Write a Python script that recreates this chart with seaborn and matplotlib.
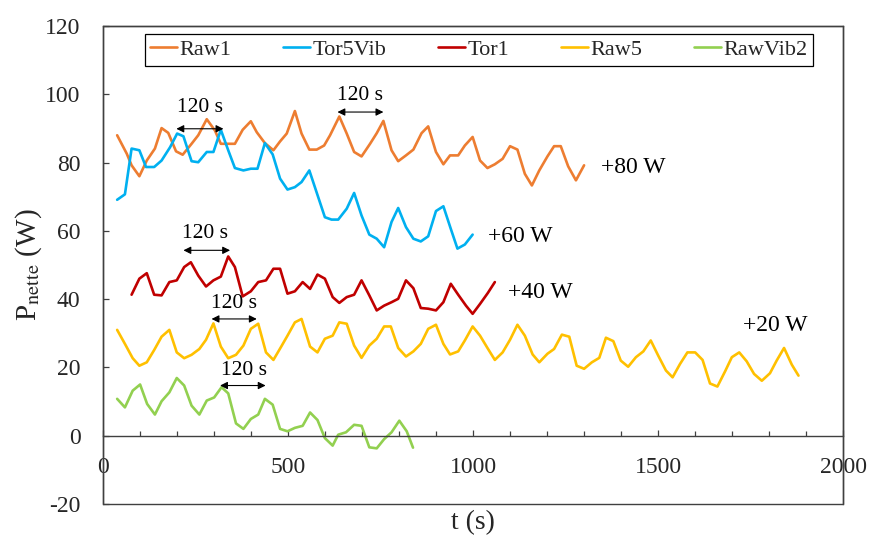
import pandas as pd
import seaborn as sns
import matplotlib.pyplot as plt
from matplotlib.lines import Line2D
from matplotlib.patches import Rectangle
from matplotlib.ticker import MultipleLocator

# data
raw1_t = [39, 65, 78, 99, 119, 141, 159, 177, 198, 216, 240, 258, 281, 303, 319, 338, 357, 378, 400, 416,
          438, 461, 479, 497, 519, 537, 558, 578, 598, 614, 639, 659, 679, 699, 722, 740, 758, 780, 798, 819,
          839, 861, 879, 900, 920, 938, 960, 978, 999, 1019, 1039, 1059, 1080, 1100, 1120, 1140, 1159, 1179,
          1201, 1219, 1237, 1257, 1278, 1300]
raw1_p = [88.0, 82.6, 79.2, 76.0, 80.6, 84.1, 90.1, 88.7, 83.3, 82.3, 85.5, 88.0, 92.7, 89.4, 85.5, 85.5, 85.5,
          89.6, 92.1, 88.9, 85.7, 83.6, 86.2, 88.5, 95.1, 88.5, 83.8, 83.8, 85.0, 88.0, 93.5, 88.5, 83.1, 81.8,
          85.5, 88.6, 92.2, 83.6, 80.4, 82.1, 83.8, 88.6, 90.6, 83.1, 79.5, 82.1, 82.1, 85.0, 87.5, 80.6, 78.4,
          79.5, 81.1, 84.8, 83.8, 76.7, 73.3, 77.7, 81.8, 84.8, 84.8, 78.9, 74.8, 79.2]

tor5vib_t = [39, 60, 78, 99, 117, 139, 159, 182, 201, 218, 240, 258, 281, 299, 319, 339, 357, 380, 400, 418,
             438, 459, 479, 499, 519, 537, 558, 600, 618, 636, 659, 679, 699, 720, 740, 760, 780, 798, 819,
             839, 859, 879, 900, 920, 940, 958, 978, 999]
tor5vib_p = [69.1, 70.7, 84.1, 83.6, 78.7, 78.7, 80.6, 84.5, 88.5, 87.7, 80.4, 80.1, 83.1, 83.1, 89.6, 83.6,
             78.4, 77.7, 78.2, 78.2, 85.7, 82.4, 75.3, 72.1, 72.8, 74.3, 77.7, 64.0, 63.3, 63.3, 66.5, 71.1,
             64.5, 58.9, 57.7, 55.2, 62.6, 66.7, 61.1, 57.7, 56.9, 58.4, 65.8, 67.2, 60.6, 54.8, 56.0, 58.9]

tor1_t = [78, 99, 119, 139, 159, 180, 200, 220, 238, 258, 279, 299, 319, 339, 357, 378, 400, 420, 441, 461,
          479, 499, 519, 540, 560, 580, 600, 621, 639, 659, 679, 699, 720, 740, 760, 780, 798, 819, 839, 859,
          879, 900, 920, 940, 960, 981, 999, 1019, 1040, 1059]
tor1_p = [41.3, 46.0, 47.6, 41.3, 41.1, 45.0, 45.5, 49.4, 50.8, 46.9, 43.7, 45.5, 46.6, 52.5, 49.4, 40.8, 42.3,
          45.0, 45.5, 48.9, 48.9, 41.6, 42.3, 45.0, 43.0, 47.2, 46.0, 40.6, 38.9, 40.6, 41.3, 45.5, 41.1, 36.7,
          38.1, 39.1, 40.1, 45.5, 43.2, 37.4, 37.2, 36.7, 39.1, 44.5, 41.3, 38.1, 35.7, 38.6, 41.8, 45.0]

raw5_t = [39, 60, 81, 99, 119, 139, 159, 180, 200, 220, 240, 261, 279, 299, 319, 339, 360, 380, 400, 420,
          441, 461, 481, 499, 519, 537, 560, 580, 600, 621, 639, 659, 679, 699, 720, 740, 760, 778, 798, 819,
          839, 859, 879, 900, 920, 938, 960, 978, 999, 1019, 1039, 1059, 1080, 1100, 1120, 1140, 1161, 1179,
          1201, 1219, 1240, 1260, 1280, 1300, 1321, 1341, 1359, 1379, 1399, 1419, 1440, 1460, 1480, 1500,
          1521, 1539, 1559, 1579, 1600, 1620, 1640, 1660, 1681, 1699, 1719, 1739, 1759, 1780, 1802, 1820,
          1840, 1861, 1879]
raw5_p = [31.0, 26.9, 22.7, 20.5, 21.5, 25.1, 29.0, 31.0, 24.4, 22.7, 23.7, 25.4, 28.1, 32.9, 26.1, 22.7, 23.7,
          26.4, 31.3, 32.8, 24.4, 22.2, 25.9, 29.3, 33.2, 34.2, 26.1, 24.4, 28.4, 29.3, 33.2, 32.8, 26.4, 22.8,
          26.4, 28.4, 32.0, 32.0, 25.7, 23.2, 24.7, 26.9, 31.3, 32.5, 26.9, 23.8, 24.7, 27.9, 32.0, 29.3, 25.7,
          22.2, 24.4, 28.1, 32.5, 29.3, 23.8, 21.5, 24.0, 25.4, 29.6, 29.0, 20.5, 19.6, 21.5, 22.8, 28.7, 27.7,
          22.0, 20.2, 23.0, 24.7, 27.9, 23.5, 19.1, 17.1, 21.0, 24.4, 24.4, 22.2, 15.3, 14.4, 18.9, 23.0, 24.4,
          21.8, 18.1, 16.1, 18.3, 22.0, 25.7, 20.8, 17.6]

rawvib2_t = [39, 60, 81, 101, 120, 141, 159, 180, 200, 220, 240, 261, 281, 301, 321, 339, 360, 380, 400, 420,
             438, 459, 479, 499, 519, 540, 560, 580, 600, 621, 636, 657, 679, 699, 720, 740, 760, 780, 801,
             821, 838]
rawvib2_p = [10.8, 8.3, 13.2, 15.0, 9.3, 6.2, 10.1, 12.7, 16.9, 14.7, 8.8, 6.2, 10.3, 11.2, 14.2, 12.4, 3.6,
             2.0, 4.9, 6.2, 10.8, 9.1, 2.0, 1.3, 2.3, 2.9, 6.8, 4.6, -0.7, -2.9, 0.3, 1.0, 3.2, 2.9, -3.4, -3.7,
             -1.0, 1.0, 4.4, 1.3, -3.5]

series = ["Raw1", "Tor5Vib", "Tor1", "Raw5", "RawVib2"]
colors = ["#ED7D31", "#00B0F0", "#C00000", "#FFC000", "#92D050"]

# "120 s" period markers: (start, end, y of arrow, text x, text y)
arrows = [(199, 326, 89.9, 263, 96.2),
          (634, 758, 94.8, 695, 99.7),
          (218, 344, 54.3, 277, 59.2),
          (294, 416, 34.2, 355, 38.7),
          (317, 440, 14.7, 381, 19.1)]
offsets = [("+80 W", 1347, 78.7), ("+60 W", 1041, 58.4), ("+40 W", 1095, 41.9), ("+20 W", 1730, 32.3)]

frames = []
for name, t, p in zip(series, [raw1_t, tor5vib_t, tor1_t, raw5_t, rawvib2_t],
                      [raw1_p, tor5vib_p, tor1_p, raw5_p, rawvib2_p]):
    frames.append(pd.DataFrame({"t": t, "P": p, "serie": name}))
df = pd.concat(frames, ignore_index=True)

sns.set_theme(style="white")
plt.rcParams["font.family"] = ["Liberation Serif", "DejaVu Serif"]
plt.rcParams["mathtext.fontset"] = "stix"
plt.rcParams["axes.unicode_minus"] = False

fig = plt.figure(figsize=(8.69, 5.39), dpi=100)
ax = fig.add_axes([102.7 / 869, 35 / 539, 740.6 / 869, 478 / 539])

sns.lineplot(data=df, x="t", y="P", hue="serie", hue_order=series, palette=colors,
             sort=False, estimator=None, linewidth=1.9, legend=False, ax=ax)

ax.set_xlim(0, 2000)
ax.set_ylim(-20, 120)
ax.xaxis.set_major_locator(MultipleLocator(500))
ax.xaxis.set_minor_locator(MultipleLocator(100))
ax.yaxis.set_major_locator(MultipleLocator(20))

axc = "#404040"
for s in ax.spines.values():
    s.set_color(axc)
    s.set_linewidth(1.0)
ax.spines["bottom"].set_position(("data", 0))
ax.add_patch(Rectangle((0, 0), 1, 1, transform=ax.transAxes, fill=False,
                       edgecolor=axc, linewidth=1.0, clip_on=False, zorder=5))

ax.tick_params(axis="x", which="major", direction="in", length=4.5, width=0.9, color=axc,
               labelsize=17, pad=15, bottom=True)
ax.tick_params(axis="x", which="minor", direction="in", length=3.3, width=0.9, color=axc, bottom=True)
ax.tick_params(axis="y", which="major", direction="in", length=4, width=0.9, color=axc,
               labelsize=17, pad=16, left=True)

ax.set_xlabel("t (s)", fontsize=20)
ax.xaxis.set_label_coords(0.5, -0.038)
ax.xaxis.label.set_va("center")
ax.set_ylabel(r"P$_{\mathrm{nette}}$ (W)", fontsize=21)
ax.yaxis.set_label_coords(-0.1, 0.5)
ax.yaxis.label.set_va("center")

for t1, t2, y, tx, ty in arrows:
    ax.annotate("", xy=(t2, y), xytext=(t1, y),
                arrowprops=dict(arrowstyle="<|-|>", color="black", lw=0.8,
                                mutation_scale=11, shrinkA=0, shrinkB=0))
    ax.text(tx, ty, "120 s", fontsize=15.5, ha="center", va="center", color="black")

for label, tx, ty in offsets:
    ax.text(tx, ty, label, fontsize=17, ha="left", va="center", color="black")

handles = [Line2D([0], [0], color=c, lw=1.9) for c in colors]
leg = ax.legend(handles, series, loc="upper center", bbox_to_anchor=(0.508, 0.983), ncol=5,
                fontsize=16, frameon=True, fancybox=False, framealpha=1, edgecolor="black",
                handlelength=1.2, handletextpad=0.1, columnspacing=2.35, borderpad=0.25,
                borderaxespad=0)
leg.get_frame().set_linewidth(0.9)

fig.savefig("out.png", dpi=100)
